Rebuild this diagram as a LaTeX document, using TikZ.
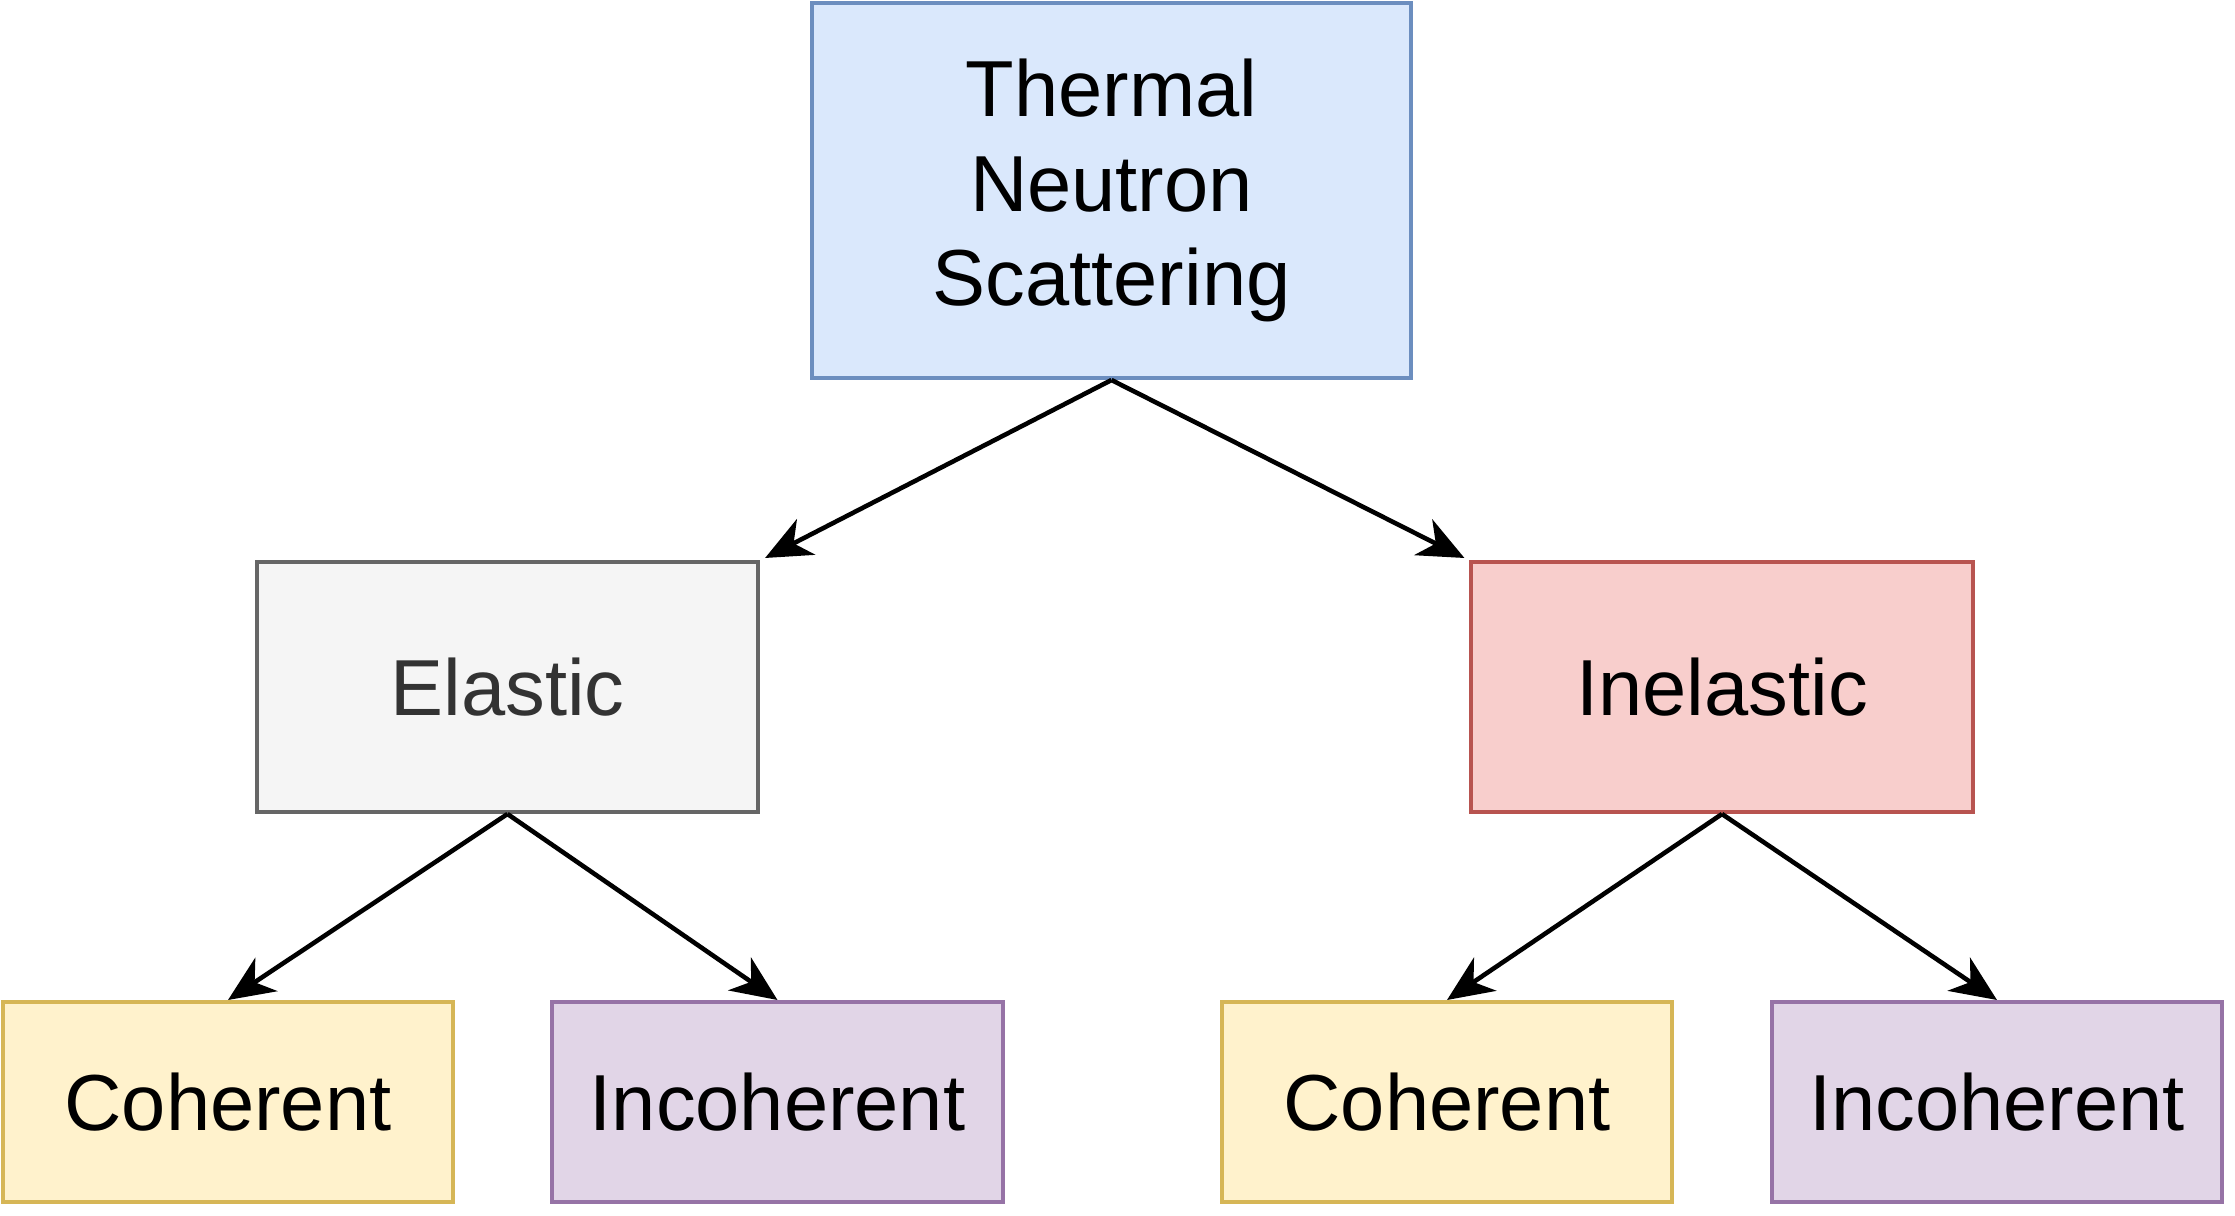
\documentclass[tikz,border=0pt]{standalone}
\usepackage{fontspec}
\setmainfont{Liberation Sans}
\usetikzlibrary{arrows.meta}

\definecolor{blueF}{HTML}{DAE8FC}\definecolor{blueD}{HTML}{6C8EBF}
\definecolor{grayF}{HTML}{F5F5F5}\definecolor{grayD}{HTML}{666666}
\definecolor{grayT}{HTML}{333333}
\definecolor{redF}{HTML}{F8CECC}\definecolor{redD}{HTML}{B85450}
\definecolor{yelF}{HTML}{FFF2CC}\definecolor{yelD}{HTML}{D6B656}
\definecolor{purF}{HTML}{E1D5E7}\definecolor{purD}{HTML}{9673A6}

\begin{document}
\begin{tikzpicture}[x=0.01cm,y=-0.01cm]
  \tikzset{ box/.style={rectangle,draw,line width=1.1pt,align=center,inner sep=0pt,
      font=\fontsize{22.6}{27}\selectfont},
    big/.style={box,minimum width=5.99cm,minimum height=3.75cm,fill=blueF,draw=blueD},
    mid/.style={box,minimum width=5.01cm,minimum height=2.5cm},
    leaf/.style={box,minimum width=4.5cm,minimum height=2cm},
    coh/.style={leaf,fill=yelF,draw=yelD},
    incoh/.style={leaf,fill=purF,draw=purD},
    arr/.style={line width=1.3pt,-{Stealth[length=4.6mm,width=4mm,inset=1.4mm]}},
  }
  \useasboundingbox (0,0) rectangle (2235,1216);

  \node[big] (T) at (1111.5, 190.5) {Thermal\\Neutron\\Scattering};
  \node[mid,fill=grayF,draw=grayD,text=grayT] (E) at (507.5, 687) {Elastic};
  \node[mid,fill=redF,draw=redD] (I) at (1722, 687) {Inelastic};

  \node[coh] (EC) at (228, 1102) {Coherent};
  \node[incoh] (EI) at (777.5, 1102) {Incoherent};
  \node[coh] (IC) at (1447, 1102) {Coherent};
  \node[incoh] (II) at (1997, 1102) {Incoherent};

  \draw[arr] (T.south) -- ([shift={(5,-2)}]E.north east);
  \draw[arr] (T.south) -- ([shift={(-5,-2)}]I.north west);
  \draw[arr] (E.south) -- (EC.north);
  \draw[arr] (E.south) -- (EI.north);
  \draw[arr] (I.south) -- (IC.north);
  \draw[arr] (I.south) -- (II.north);
\end{tikzpicture}
\end{document}
